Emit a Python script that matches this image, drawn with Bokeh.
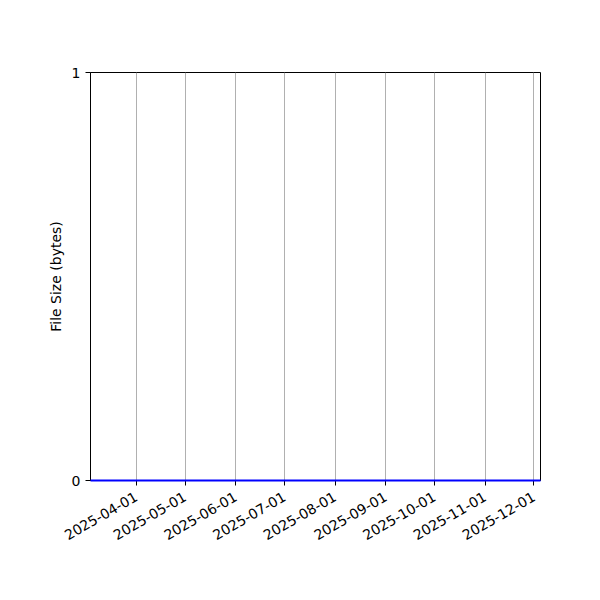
from datetime import datetime
from math import pi

from bokeh.embed import file_html
from bokeh.models import ColumnDataSource, DatetimeTickFormatter, FixedTicker, Range1d
from bokeh.plotting import figure
from bokeh.resources import INLINE

# Messwerte: Datum und Dateigroesse (alle 0 bytes)
dates = ["2025-03-04", "2025-04-20", "2025-06-10", "2025-08-01",
         "2025-09-20", "2025-11-05", "2025-12-05"]
sizes = [0, 0, 0, 0, 0, 0, 0]

# Achsenbeschriftung
tick_dates = ["2025-04-01", "2025-05-01", "2025-06-01", "2025-07-01",
              "2025-08-01", "2025-09-01", "2025-10-01", "2025-11-01", "2025-12-01"]
y_ticks = [0, 1]


def to_dt(s):
    return datetime.strptime(s, "%Y-%m-%d")


def to_ms(s):
    return (to_dt(s) - datetime(1970, 1, 1)).total_seconds() * 1000


x = [to_dt(d) for d in dates]
source = ColumnDataSource(data=dict(x=x, y=sizes))

p = figure(width=584, height=584, output_backend="svg", toolbar_location=None,
           x_axis_type="datetime",
           x_range=Range1d(x[0], x[-1]), y_range=Range1d(0, 1),
           min_border_left=90, min_border_right=44,
           min_border_top=72, min_border_bottom=104)
p.frame_width = 450
p.frame_height = 408

p.line("x", "y", source=source, line_color="blue", line_width=2, level="overlay")

font = "DejaVu Sans"
p.xaxis.ticker = FixedTicker(ticks=[to_ms(d) for d in tick_dates])
p.xaxis.formatter = DatetimeTickFormatter(days="%Y-%m-%d", months="%Y-%m-%d")
p.xaxis.major_label_orientation = pi / 6
p.xaxis.major_label_standoff = 10
p.yaxis.ticker = FixedTicker(ticks=y_ticks)
p.yaxis.major_label_standoff = 5
p.yaxis.axis_label = "File Size (bytes)"

for ax in (p.xaxis, p.yaxis):
    ax.major_label_text_font = font
    ax.major_label_text_font_size = "14px"
    ax.major_label_text_color = "black"
    ax.axis_label_text_font = font
    ax.axis_label_text_font_size = "14px"
    ax.axis_label_text_font_style = "normal"
    ax.axis_label_text_color = "black"
    ax.axis_line_color = "black"
    ax.major_tick_line_color = "black"
    ax.major_tick_in = 0
    ax.major_tick_out = 5
    ax.minor_tick_line_color = None

p.xgrid.grid_line_color = "#b0b0b0"
p.xgrid.grid_line_width = 1
p.ygrid.grid_line_color = None
p.outline_line_color = "black"
p.outline_line_alpha = 1
p.outline_line_width = 1

open("out.html", "w").write(file_html(p, INLINE))
